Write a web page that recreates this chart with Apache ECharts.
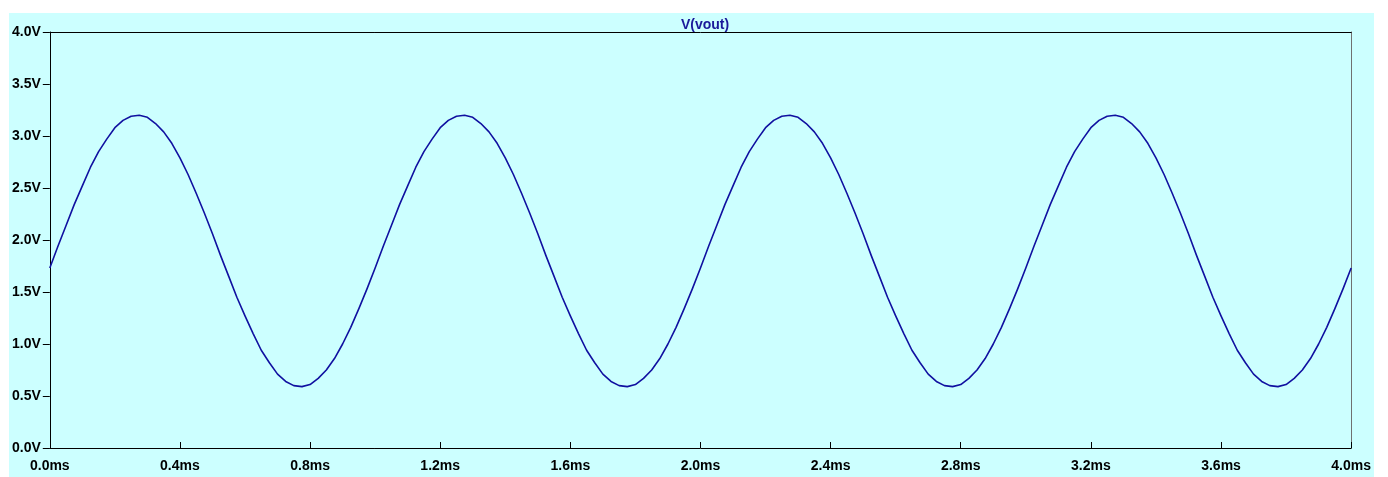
<!DOCTYPE html>
<html>
<head>
<meta charset="utf-8">
<script src="https://cdn.jsdelivr.net/npm/echarts@6/dist/echarts.min.js"></script>
<style>
html,body{margin:0;padding:0;background:#ffffff;}
#chart{position:absolute;left:9px;top:13px;width:1365px;height:464px;background:#ccffff;}
</style>
</head>
<body>
<div id="chart"></div>
<script>
// Sample step of the transient trace (ms)
const sampleStepMs = 0.025;
// Read voltages (V) of V(vout), one sample every 0.025 ms, 0.0ms .. 4.0ms
const voutV = [
  1.73,1.94,2.14,2.34,2.52,2.70,2.85,2.97,3.08,3.15,3.19,3.20,3.18,3.12,3.04,2.93,2.79,2.63,2.45,2.26,
  2.06,1.85,1.65,1.45,1.27,1.10,0.94,0.82,0.71,0.64,0.60,0.59,0.61,0.67,0.75,0.86,1.00,1.16,1.34,1.53,
  1.73,1.94,2.14,2.34,2.52,2.70,2.85,2.97,3.08,3.15,3.19,3.20,3.18,3.12,3.04,2.93,2.79,2.63,2.45,2.26,
  2.06,1.85,1.65,1.45,1.27,1.10,0.94,0.82,0.71,0.64,0.60,0.59,0.61,0.67,0.75,0.86,1.00,1.16,1.34,1.53,
  1.73,1.94,2.14,2.34,2.52,2.70,2.85,2.97,3.08,3.15,3.19,3.20,3.18,3.12,3.04,2.93,2.79,2.63,2.45,2.26,
  2.06,1.85,1.65,1.45,1.27,1.10,0.94,0.82,0.71,0.64,0.60,0.59,0.61,0.67,0.75,0.86,1.00,1.16,1.34,1.53,
  1.73,1.94,2.14,2.34,2.52,2.70,2.85,2.97,3.08,3.15,3.19,3.20,3.18,3.12,3.04,2.93,2.79,2.63,2.45,2.26,
  2.06,1.85,1.65,1.45,1.27,1.10,0.94,0.82,0.71,0.64,0.60,0.59,0.61,0.67,0.75,0.86,1.00,1.16,1.34,1.53,
  1.73
];
const xTickLabels = ['0.0ms','0.4ms','0.8ms','1.2ms','1.6ms','2.0ms','2.4ms','2.8ms','3.2ms','3.6ms','4.0ms'];
const yTickLabels = ['0.0V','0.5V','1.0V','1.5V','2.0V','2.5V','3.0V','3.5V','4.0V'];
const seriesName = 'V(vout)';

const chart = echarts.init(document.getElementById('chart'), null, {renderer:'canvas'});
const labelFont = {color:'#000000', fontFamily:'Liberation Sans, Arial, sans-serif', fontWeight:'bold', fontSize:14};
const points = voutV.map((v,i)=>[+(i*sampleStepMs).toFixed(3), v]);

chart.setOption({
  animation:false,
  backgroundColor:'#ccffff',
  title:{
    text:seriesName, left:691, top:0, textAlign:'center',
    textStyle:{color:'#1a1a9a', fontFamily:'Liberation Sans, Arial, sans-serif', fontWeight:'bold', fontSize:14}
  },
  grid:{left:39, right:21, top:19, bottom:29, containLabel:false},
  xAxis:[{
    type:'value', min:0, max:4, interval:0.4, position:'bottom',
    axisLine:{show:true, onZero:false, lineStyle:{color:'#000000', width:1}},
    axisTick:{show:true, inside:true, length:6, lineStyle:{color:'#000000'}},
    splitLine:{show:false},
    axisLabel:Object.assign({margin:11, formatter:(v)=>xTickLabels[Math.round(v/0.4)] || ''}, labelFont)
  },{
    type:'value', min:0, max:4, position:'top',
    axisLine:{show:true, onZero:false, lineStyle:{color:'#000000', width:1}},
    axisTick:{show:false}, axisLabel:{show:false}, splitLine:{show:false}
  }],
  yAxis:[{
    type:'value', min:0, max:4, interval:0.5, position:'left',
    axisLine:{show:true, onZero:false, lineStyle:{color:'#000000', width:1}},
    axisTick:{show:true, inside:false, length:7, lineStyle:{color:'#000000'}},
    splitLine:{show:false},
    axisLabel:Object.assign({margin:9, formatter:(v)=>yTickLabels[Math.round(v/0.5)] || ''}, labelFont)
  },{
    type:'value', min:0, max:4, position:'right',
    axisLine:{show:true, onZero:false, lineStyle:{color:'#707070', width:1}},
    axisTick:{show:false}, axisLabel:{show:false}, splitLine:{show:false}
  }],
  series:[{
    name:seriesName, type:'line', data:points, smooth:false, showSymbol:false,
    xAxisIndex:0, yAxisIndex:0,
    lineStyle:{color:'#1010a0', width:1.6, join:'round'}
  }]
});
</script>
</body>
</html>
